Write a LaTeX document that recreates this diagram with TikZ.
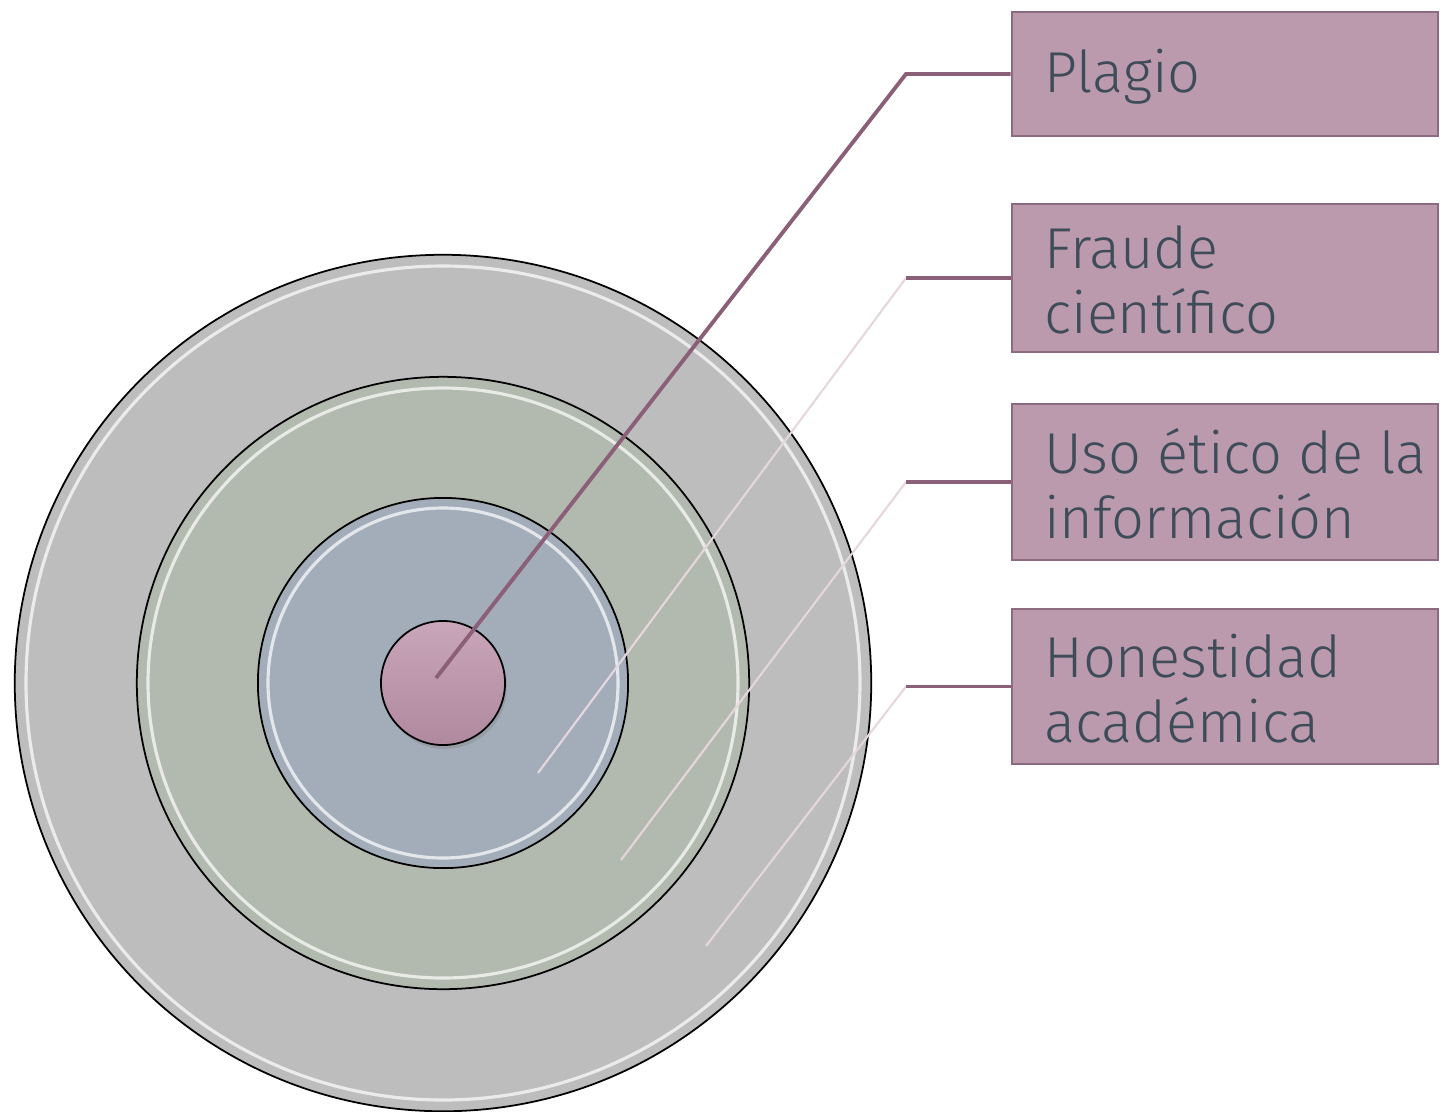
\documentclass[tikz,border=0pt]{standalone}
\usepackage{fontspec}
\setmainfont{Fira Sans}[UprightFont=* Light]
\usepackage{xcolor}
\usetikzlibrary{shadows}
\definecolor{ringGray}{HTML}{BDBDBD}
\definecolor{ringGreen}{HTML}{B2B9AE}
\definecolor{ringBlue}{HTML}{A3ADBA}
\definecolor{coreTop}{HTML}{C9A6BA}
\definecolor{coreBottom}{HTML}{B0899E}
\definecolor{boxFill}{HTML}{BC9AAD}
\definecolor{boxLine}{HTML}{8C6A80}
\definecolor{leadDark}{HTML}{8A5F77}
\definecolor{leadLight}{HTML}{E6D6DD}
\definecolor{labelText}{HTML}{3E4C59}
\tikzset{ring/.style={draw=black, line width=0.5pt, circle, inner sep=0, outer sep=0}}
\tikzset{glint/.style={draw=white, line width=0.9pt, opacity=0.7}}
\tikzset{label-box/.style={draw=boxLine, line width=0.7pt, fill=boxFill, minimum width=4.26cm, inner sep=0}}
\tikzset{label-text/.style={anchor=west, text=labelText, align=left, inner sep=0,
    font=\fontsize{16.4}{18.4}\selectfont}}
\tikzset{lead-dark/.style={draw=leadDark, line width=1.1pt}}
\tikzset{lead-light/.style={draw=leadLight, line width=0.6pt}}
\begin{document}
\begin{tikzpicture}[x=0.01cm, y=-0.01cm]
    \useasboundingbox (0,0) rectangle (1442,1111);

    % rings
    \node[ring, fill=ringGray, minimum size=8.56cm] (outer) at (443,683) {};
    \draw[glint] (outer.center) circle (417);
    \node[ring, fill=ringGreen, minimum size=6.12cm] (middle) at (443,683) {};
    \draw[glint] (middle.center) circle (295);
    \node[ring, fill=ringBlue, minimum size=3.70cm] (inner) at (443,683) {};
    \draw[glint] (inner.center) circle (175);
    \node[ring, top color=coreTop, bottom color=coreBottom, minimum size=1.24cm,
          drop shadow={opacity=0.35, shadow xshift=0.02cm, shadow yshift=-0.04cm}] (core) at (443,683) {};

    % boxes
    \node[label-box, minimum height=1.24cm] (box1) at (1225,74) {};
    \node[label-box, minimum height=1.48cm] (box2) at (1225,278) {};
    \node[label-box, minimum height=1.56cm] (box3) at (1225,482) {};
    \node[label-box, minimum height=1.55cm] (box4) at (1225,686.5) {};
    \node[label-text] (txt1) at ([xshift=0.33cm, yshift=-0.03cm]box1.west) {Plagio};
    \node[label-text] (txt2) at ([xshift=0.33cm, yshift=-0.02cm]box2.west) {Fraude\\científico};
    \node[label-text] (txt3) at ([xshift=0.33cm, yshift=-0.02cm]box3.west) {Uso ético de la\\información};
    \node[label-text] (txt4) at ([xshift=0.33cm, yshift=-0.02cm]box4.west) {Honestidad\\académica};

    % leaders
    \coordinate (in1) at (436,678);
    \coordinate (in2) at (538,773);
    \coordinate (in3) at (621,860);
    \coordinate (in4) at (706,946);
    \coordinate (el1) at (906,74);
    \coordinate (el2) at (906,278);
    \coordinate (el3) at (906,482);
    \coordinate (el4) at (906,686.5);
    \draw[lead-dark] (in1) -- (el1) -- (box1.west);
    \draw[lead-light] (in2) -- (el2);
    \draw[lead-dark] (el2) -- (box2.west);
    \draw[lead-light] (in3) -- (el3);
    \draw[lead-dark] (el3) -- (box3.west);
    \draw[lead-light] (in4) -- (el4);
    \draw[lead-dark] (el4) -- (box4.west);
\end{tikzpicture}
\end{document}
